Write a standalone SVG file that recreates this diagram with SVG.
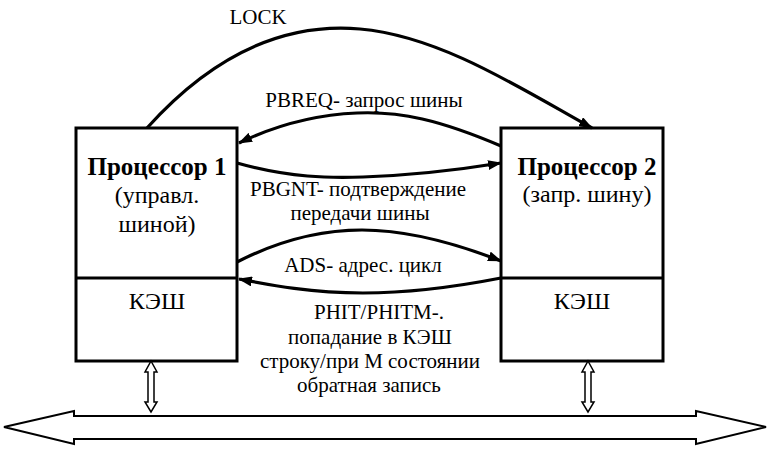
<svg xmlns="http://www.w3.org/2000/svg" width="769" height="452" viewBox="0 0 769 452">
<style>
.box{fill:#fff;stroke:#000;stroke-width:3}
.t{font-family:"Liberation Serif","Times New Roman",serif;fill:#000;text-anchor:middle}
.s{font-size:21px}
.b{font-size:24px}
.bb{font-size:25px;font-weight:bold}
.c{fill:none;stroke:#000;stroke-width:3.2;marker-end:url(#ah)}
.bus{fill:#fff;stroke:#000;stroke-width:2}
.dbl{fill:#fff;stroke:#000;stroke-width:1.5}
</style>
<defs>
<marker id="ah" viewBox="0 0 14 10" refX="13" refY="5" markerWidth="14" markerHeight="10" markerUnits="userSpaceOnUse" orient="auto">
<path d="M0,0 L14,5 L0,10 Z" fill="#000"/>
</marker>
</defs>
<rect width="769" height="452" fill="#fff"/>
<g id="bus">
<path class="bus" d="M4,427 L74,411 L74,416 L696,416 L696,411 L766,427 L696,444 L696,439 L74,439 L74,444 Z"/>
</g>
<g id="proc1">
<rect class="box" x="76" y="128" width="161" height="233"/>
<line x1="76" y1="278" x2="237" y2="278" stroke="#000" stroke-width="3"/>
<text class="t bb" x="157" y="175">Процессор 1</text>
<text class="t b" x="157" y="203">(управл.</text>
<text class="t b" x="157" y="232">шиной)</text>
<text class="t b" x="157" y="309">КЭШ</text>
</g>
<g id="proc2">
<rect class="box" x="501" y="128" width="162" height="233"/>
<line x1="501" y1="278" x2="663" y2="278" stroke="#000" stroke-width="3"/>
<text class="t bb" x="587" y="175">Процессор 2</text>
<text class="t b" x="587" y="202">(запр. шину)</text>
<text class="t b" x="582" y="309">КЭШ</text>
</g>
<g id="connectors">
<path class="c" d="M147,128 C210,58 280,22 360,29 C440,36 520,88 592,128"/>
<path class="c" d="M501,146 C440,120 400,111 357,113 C310,115 270,128 239,143"/>
<path class="c" d="M237,163 C290,178 330,178 363,177 C420,175 470,168 501,163"/>
<path class="c" d="M237,262 C280,240 320,230 362,230 C410,230 460,245 501,261"/>
<path class="c" d="M501,278 C460,286 410,293 363,293 C310,293 270,285 239,279"/>
<path class="dbl" d="M151,361 L157,372 L154,372 L154,402 L157,402 L151,412 L145,402 L148,402 L148,372 L145,372 Z"/>
<path class="dbl" d="M588,361 L594,372 L591,372 L591,402 L594,402 L588,412 L582,402 L585,402 L585,372 L582,372 Z"/>
</g>
<g id="labels">
<text class="t s" x="258" y="24">LOCK</text>
<text class="t s" x="364" y="107">PBREQ- запрос шины</text>
<text class="t s" x="358" y="196">PBGNT- подтверждение</text>
<text class="t s" x="360" y="220">передачи шины</text>
<text class="t s" x="363" y="272">ADS- адрес. цикл</text>
<text class="t s" x="379" y="319">PHIT/PHITM-.</text>
<text class="t s" x="370" y="344">попадание в КЭШ</text>
<text class="t s" x="370" y="368">строку/при М состоянии</text>
<text class="t s" x="369" y="392">обратная запись</text>
</g>
</svg>
